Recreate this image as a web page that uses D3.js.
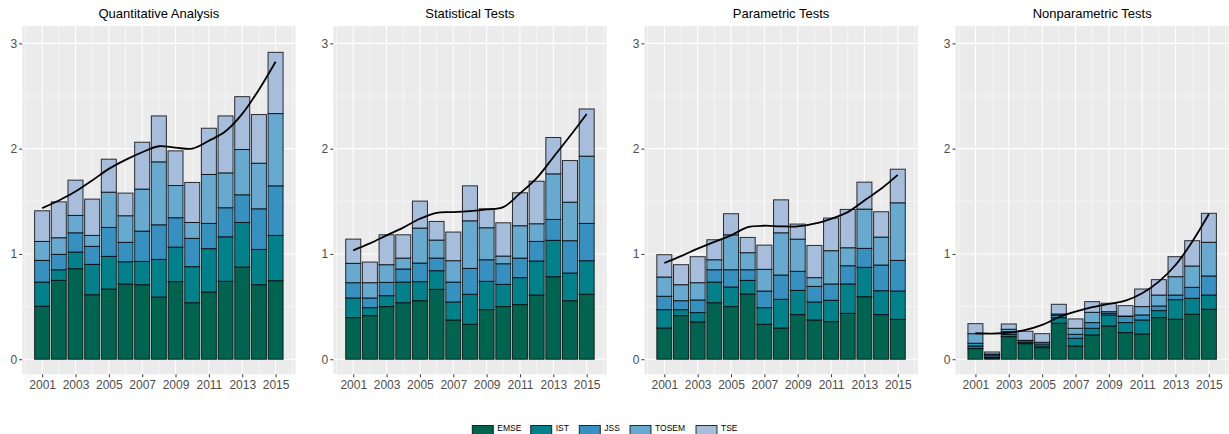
<!DOCTYPE html>
<html><head><meta charset="utf-8">
<script src="https://cdn.jsdelivr.net/npm/d3@7"></script>
<style>
html,body{margin:0;padding:0;background:#fff;}
svg{display:block;font-family:"Liberation Sans",Arial,sans-serif;}
</style></head>
<body>
<svg id="chart" width="1229" height="434"></svg>
<script>
const years = [2001,2002,2003,2004,2005,2006,2007,2008,2009,2010,2011,2012,2013,2014,2015];
const journals = ["EMSE","IST","JSS","TOSEM","TSE"];
const colors = ["#016450","#02818a","#3690c0","#67a9cf","#a6bddb"];
const panelTitles = ["Quantitative Analysis","Statistical Tests","Parametric Tests","Nonparametric Tests"];
const yTicks = [0,1,2,3];
const xTicks = [2001,2003,2005,2007,2009,2011,2013,2015];

// per-panel series values (EMSE, IST, JSS, TOSEM, TSE) per year
const qaEMSE  = [0.503,0.749,0.860,0.613,0.667,0.715,0.708,0.591,0.737,0.537,0.639,0.740,0.876,0.708,0.746];
const qaIST   = [0.230,0.101,0.158,0.288,0.310,0.211,0.221,0.357,0.328,0.342,0.411,0.423,0.423,0.335,0.430];
const qaJSS   = [0.206,0.146,0.183,0.171,0.275,0.184,0.288,0.329,0.279,0.269,0.240,0.276,0.263,0.386,0.471];
const qaTOSEM = [0.180,0.158,0.165,0.104,0.335,0.253,0.399,0.598,0.306,0.151,0.465,0.331,0.430,0.433,0.686];
const qaTSE   = [0.291,0.341,0.335,0.345,0.313,0.215,0.445,0.436,0.329,0.380,0.439,0.541,0.502,0.462,0.582];
const qaSmooth = [1.435,1.508,1.593,1.698,1.808,1.894,1.966,2.023,2.010,2.000,2.075,2.165,2.330,2.560,2.826];

const stEMSE  = [0.395,0.414,0.500,0.537,0.556,0.664,0.373,0.332,0.471,0.500,0.519,0.610,0.784,0.556,0.617];
const stIST   = [0.187,0.076,0.104,0.196,0.181,0.177,0.171,0.285,0.269,0.211,0.256,0.323,0.345,0.263,0.319];
const stJSS   = [0.145,0.092,0.126,0.124,0.177,0.120,0.189,0.246,0.205,0.196,0.186,0.186,0.199,0.307,0.354];
const stTOSEM = [0.184,0.145,0.168,0.104,0.332,0.171,0.203,0.452,0.304,0.073,0.307,0.168,0.433,0.366,0.639];
const stTSE   = [0.230,0.196,0.284,0.221,0.256,0.177,0.272,0.332,0.180,0.316,0.313,0.404,0.345,0.395,0.448];
const stSmooth = [1.034,1.100,1.176,1.250,1.334,1.391,1.397,1.407,1.423,1.445,1.575,1.720,1.919,2.120,2.330];

const ptEMSE  = [0.297,0.414,0.354,0.537,0.500,0.620,0.332,0.297,0.424,0.373,0.357,0.436,0.594,0.424,0.379];
const ptIST   = [0.174,0.057,0.089,0.196,0.186,0.129,0.158,0.272,0.230,0.171,0.203,0.279,0.279,0.227,0.269];
const ptJSS   = [0.127,0.085,0.120,0.117,0.164,0.101,0.158,0.231,0.181,0.148,0.155,0.173,0.180,0.244,0.291];
const ptTOSEM = [0.183,0.152,0.164,0.095,0.332,0.162,0.206,0.401,0.306,0.083,0.316,0.171,0.373,0.265,0.547];
const ptTSE   = [0.212,0.190,0.247,0.190,0.200,0.145,0.230,0.313,0.143,0.306,0.310,0.364,0.256,0.241,0.319];
const ptSmooth = [0.914,0.980,1.050,1.115,1.176,1.255,1.268,1.262,1.262,1.287,1.334,1.397,1.508,1.619,1.751];

const ntEMSE  = [0.101,0.012,0.215,0.148,0.110,0.342,0.126,0.231,0.316,0.253,0.240,0.395,0.380,0.427,0.475];
const ntIST   = [0.025,0.010,0.022,0.010,0.016,0.053,0.073,0.063,0.105,0.095,0.133,0.067,0.186,0.152,0.135];
const ntJSS   = [0.026,0.018,0.025,0.017,0.019,0.023,0.038,0.054,0.016,0.060,0.048,0.044,0.044,0.104,0.181];
const ntTOSEM = [0.091,0.010,0.023,0.005,0.016,0.012,0.057,0.098,0.015,0.003,0.079,0.104,0.174,0.203,0.320];
const ntTSE   = [0.095,0.019,0.050,0.086,0.082,0.092,0.089,0.101,0.080,0.098,0.167,0.146,0.190,0.240,0.275];
const ntSmooth = [0.247,0.244,0.253,0.278,0.326,0.399,0.452,0.495,0.525,0.556,0.627,0.737,0.895,1.117,1.380];

const panels = [
  {title: panelTitles[0], series: [qaEMSE,qaIST,qaJSS,qaTOSEM,qaTSE], smooth: qaSmooth},
  {title: panelTitles[1], series: [stEMSE,stIST,stJSS,stTOSEM,stTSE], smooth: stSmooth},
  {title: panelTitles[2], series: [ptEMSE,ptIST,ptJSS,ptTOSEM,ptTSE], smooth: ptSmooth},
  {title: panelTitles[3], series: [ntEMSE,ntIST,ntJSS,ntTOSEM,ntTSE], smooth: ntSmooth}
];

const svg = d3.select("#chart");
const panelW = 273.3, panelTop = 26, panelBottom = 374.3;
const panelLefts = [22.2, 333.3, 644.4, 955.5];
const barW = 0.9;
const xDom = [2001 - 0.45 - 0.745, 2015 + 0.45 + 0.745];

const y = d3.scaleLinear().domain([-0.143, 3.165]).range([panelBottom, panelTop]);

panels.forEach((p, pi) => {
  const left = panelLefts[pi];
  const x = d3.scaleLinear().domain(xDom).range([left, left + panelW]);
  const g = svg.append("g");

  // background
  g.append("rect").attr("x", left).attr("y", panelTop)
    .attr("width", panelW).attr("height", panelBottom - panelTop).attr("fill", "#ebebeb");

  // minor grid
  const yMinor = [0.5,1.5,2.5];
  const xMinor = d3.range(2000, 2017, 2);
  g.selectAll(".ymin").data(yMinor).enter().append("line")
    .attr("x1", left).attr("x2", left + panelW)
    .attr("y1", d => y(d)).attr("y2", d => y(d))
    .attr("stroke", "#fff").attr("stroke-width", 0.55);
  g.selectAll(".xmin").data(xMinor).enter().append("line")
    .attr("y1", panelTop).attr("y2", panelBottom)
    .attr("x1", d => x(d)).attr("x2", d => x(d))
    .attr("stroke", "#fff").attr("stroke-width", 0.55);
  // major grid
  g.selectAll(".ymaj").data(yTicks).enter().append("line")
    .attr("x1", left).attr("x2", left + panelW)
    .attr("y1", d => y(d)).attr("y2", d => y(d))
    .attr("stroke", "#fff").attr("stroke-width", 1.1);
  g.selectAll(".xmaj").data(xTicks).enter().append("line")
    .attr("y1", panelTop).attr("y2", panelBottom)
    .attr("x1", d => x(d)).attr("x2", d => x(d))
    .attr("stroke", "#fff").attr("stroke-width", 1.1);

  // stacked bars
  const rows = years.map((yr, i) => {
    const r = {year: yr};
    journals.forEach((j, k) => r[j] = p.series[k][i]);
    return r;
  });
  const stacked = d3.stack().keys(journals)(rows);
  stacked.forEach((layer, k) => {
    g.append("g").selectAll("rect").data(layer).enter().append("rect")
      .attr("x", d => x(d.data.year - barW / 2))
      .attr("width", d => x(d.data.year + barW / 2) - x(d.data.year - barW / 2))
      .attr("y", d => y(d[1]))
      .attr("height", d => Math.max(0, y(d[0]) - y(d[1])))
      .attr("fill", colors[k])
      .attr("stroke", "rgba(0,0,0,0.8)")
      .attr("stroke-width", 1);
  });

  // smooth line
  const line = d3.line().x((d, i) => x(years[i])).y(d => y(d)).curve(d3.curveCatmullRom);
  g.append("path").datum(p.smooth).attr("d", line)
    .attr("fill", "none").attr("stroke", "#000").attr("stroke-width", 1.8);

  // axes
  const yAxis = d3.axisLeft(y).tickValues(yTicks).tickSize(3).tickPadding(2).tickFormat(d3.format("d"));
  const ya = g.append("g").attr("transform", `translate(${left},0)`).call(yAxis);
  const xAxis = d3.axisBottom(x).tickValues(xTicks).tickSize(3).tickPadding(3).tickFormat(d3.format("d"));
  const xa = g.append("g").attr("transform", `translate(0,${panelBottom})`).call(xAxis);
  [ya, xa].forEach(a => {
    a.select(".domain").remove();
    a.selectAll(".tick line").attr("stroke", "#333").attr("stroke-width", 1);
    a.selectAll(".tick text").attr("fill", "#4d4d4d").style("font-size", "12px")
      .style("font-family", "'Liberation Sans', Arial, sans-serif");
  });

  // title
  g.append("text").attr("x", left + panelW / 2).attr("y", 18)
    .attr("text-anchor", "middle").style("font-size", "13px").attr("fill", "#000")
    .text(p.title);
});

// legend
const legendKeyX = [472.3, 530.7, 579.3, 630, 696];
const lg = svg.append("g");
journals.forEach((j, k) => {
  lg.append("rect").attr("x", legendKeyX[k]).attr("y", 425.5)
    .attr("width", 21).attr("height", 21)
    .attr("fill", colors[k]).attr("stroke", "rgba(0,0,0,0.8)").attr("stroke-width", 1);
  lg.append("text").attr("x", legendKeyX[k] + 25).attr("y", 431.3)
    .style("font-size", "8.5px").attr("fill", "#000").text(j);
});
</script>
</body></html>
